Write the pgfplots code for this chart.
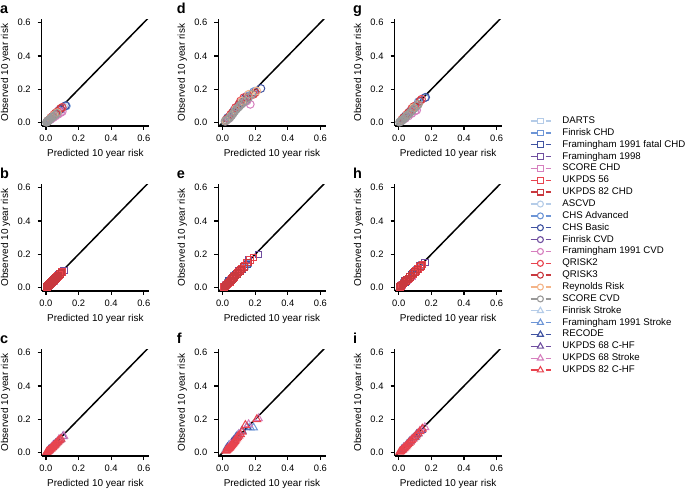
\documentclass[border=0pt]{standalone}
\usepackage{pgfplots}
\pgfplotsset{compat=1.18}
\usepackage{fontspec}
\setmainfont{Liberation Sans}

\definecolor{lblue}{HTML}{B5CCE8}
\definecolor{mblue}{HTML}{6D95D6}
\definecolor{dblue}{HTML}{3F52A1}
\definecolor{purp}{HTML}{6F4E9F}
\definecolor{pinkc}{HTML}{D67FBE}
\definecolor{red1}{HTML}{E8434E}
\definecolor{red2}{HTML}{C9393F}
\definecolor{peach}{HTML}{F4B488}
\definecolor{grey1}{HTML}{999999}

\pgfplotsset{
 panel/.style={
  scale only axis, width=107.3bp, height=106.7bp,
  xmin=-0.026, xmax=0.632, ymin=-0.02, ymax=0.62,
  axis x line=bottom, axis y line=left,
  axis line style={-, line width=1.3bp, black},
  xtick={0,0.2,0.4,0.6}, ytick={0,0.2,0.4,0.6},
  xticklabels={0.0,0.2,0.4,0.6}, yticklabels={0.0,0.2,0.4,0.6},
  tick align=outside, major tick length=4bp,
  every tick/.style={black, line width=1.3bp},
  tick label style={font=\fontsize{9.4}{11}\selectfont},
  yticklabel style={xshift=-3.5bp},
  xticklabel style={yshift=-1bp},
  label style={font=\fontsize{10.7}{12}\selectfont},
  xlabel={Predicted 10 year risk}, ylabel={Observed 10 year risk},
  every axis x label/.style={at={(axis description cs:0.5,-0.262)}, anchor=center},
  every axis y label/.style={at={(axis description cs:-0.336,0.5)}, anchor=center, rotate=90},
 },
 diag/.style={black, line width=1.5bp, no markers},
 sq/.style={only marks, mark=square, mark size=3.3bp, line width=1bp},
 ci/.style={only marks, mark=o, mark size=3.9bp, line width=1bp},
 tr/.style={only marks, mark=triangle, mark size=4.5bp, line width=1bp},
 lsq/.style={line width=1.4bp, mark=square, mark size=2.8bp, mark options={line width=1.1bp}},
 lci/.style={line width=1.4bp, mark=o, mark size=3bp, mark options={line width=1.1bp}},
 ltr/.style={line width=1.4bp, mark=triangle, mark size=3.5bp, mark options={line width=1.1bp}},
}

\newcommand{\panellabel}[3]{\node[anchor=base west, font=\fontsize{14.5}{16}\selectfont\bfseries, inner sep=0pt] at (#1bp,#2bp) {#3};}

\begin{document}
\begin{tikzpicture}
\useasboundingbox (0,0) rectangle (685bp,491bp);

% ---------------- panel a ----------------
\begin{axis}[panel, at={(41.7bp,365bp)}, anchor=south west]
\addplot[diag] coordinates {(-0.02,-0.02) (0.625,0.625)};
\addplot[ci, lblue] coordinates {(0.01,0.008) (0.02,0.016) (0.03,0.025) (0.045,0.038) (0.06,0.05) (0.08,0.07) (0.11,0.095)};
\addplot[ci, mblue] coordinates {(0.02,0.015) (0.04,0.035) (0.07,0.06) (0.1,0.09) (0.125,0.1)};
\addplot[ci, dblue] coordinates {(0.03,0.025) (0.06,0.05) (0.09,0.08) (0.12,0.102)};
\addplot[ci, purp] coordinates {(0.01,0.008) (0.025,0.02) (0.04,0.035) (0.06,0.055) (0.08,0.075)};
\addplot[ci, pinkc] coordinates {(0.015,0.01) (0.03,0.02) (0.045,0.03) (0.06,0.04) (0.075,0.05) (0.09,0.06) (0.1,0.066)};
\addplot[ci, red1] coordinates {(0.01,0.01) (0.03,0.03) (0.05,0.05) (0.07,0.065) (0.1,0.092)};
\addplot[ci, red2] coordinates {(0.012,0.012) (0.035,0.033) (0.06,0.058) (0.09,0.085)};
\addplot[ci, peach] coordinates {(0.01,0.009) (0.03,0.028) (0.05,0.046) (0.07,0.06)};
\addplot[ci, grey1] coordinates {(0.003,0.002) (0.006,0.004) (0.009,0.007) (0.012,0.01) (0.016,0.013) (0.02,0.017) (0.025,0.021) (0.031,0.026) (0.038,0.031) (0.046,0.038) (0.056,0.045) (0.068,0.056)};
\end{axis}

% ---------------- panel b ----------------
\begin{axis}[panel, at={(41.7bp,200bp)}, anchor=south west]
\addplot[diag] coordinates {(-0.02,-0.02) (0.625,0.625)};
\addplot[sq, lblue] coordinates {(0.01,0.008) (0.03,0.025) (0.05,0.045) (0.07,0.065)};
\addplot[sq, mblue] coordinates {(0.02,0.018) (0.05,0.045) (0.08,0.075) (0.1,0.092)};
\addplot[sq, dblue] coordinates {(0.015,0.01) (0.04,0.035) (0.07,0.06)};
\addplot[sq, purp] coordinates {(0.02,0.02) (0.05,0.05) (0.08,0.08) (0.11,0.103)};
\addplot[sq, pinkc] coordinates {(0.01,0.008) (0.03,0.025) (0.05,0.04)};
\addplot[sq, red1] coordinates {(0.005,0.004) (0.01,0.008) (0.015,0.012) (0.02,0.017) (0.025,0.022) (0.03,0.027) (0.035,0.031) (0.04,0.036) (0.045,0.041) (0.05,0.046) (0.056,0.051) (0.062,0.057) (0.068,0.063) (0.075,0.07) (0.082,0.077) (0.09,0.085) (0.1,0.095)};
\addplot[sq, red2] coordinates {(0.006,0.006) (0.012,0.011) (0.018,0.016) (0.024,0.022) (0.03,0.028) (0.036,0.034) (0.042,0.039) (0.048,0.045) (0.055,0.052) (0.062,0.059) (0.07,0.066) (0.078,0.074) (0.086,0.082) (0.095,0.09)};
\end{axis}

% ---------------- panel c ----------------
\begin{axis}[panel, at={(41.7bp,35bp)}, anchor=south west]
\addplot[diag] coordinates {(-0.02,-0.02) (0.625,0.625)};
\addplot[tr, lblue] coordinates {(0.01,0.008) (0.03,0.028) (0.05,0.045)};
\addplot[tr, mblue] coordinates {(0.02,0.02) (0.04,0.037) (0.07,0.065) (0.09,0.08)};
\addplot[tr, dblue] coordinates {(0.015,0.012) (0.04,0.035) (0.06,0.055)};
\addplot[tr, purp] coordinates {(0.02,0.018) (0.05,0.048) (0.08,0.075) (0.105,0.098)};
\addplot[tr, pinkc] coordinates {(0.01,0.008) (0.04,0.04) (0.08,0.08) (0.11,0.1)};
\addplot[tr, red1] coordinates {(0.005,0.003) (0.01,0.006) (0.015,0.01) (0.02,0.014) (0.025,0.019) (0.03,0.023) (0.035,0.028) (0.04,0.032) (0.045,0.037) (0.05,0.042) (0.055,0.047) (0.06,0.052) (0.066,0.058) (0.072,0.064) (0.078,0.07) (0.085,0.076) (0.092,0.083)};
\end{axis}

% ---------------- panel d ----------------
\begin{axis}[panel, at={(218.3bp,365bp)}, anchor=south west]
\addplot[diag] coordinates {(-0.02,-0.02) (0.625,0.625)};
\addplot[ci, lblue] coordinates {(0.02,0.015) (0.05,0.045) (0.08,0.08) (0.12,0.12) (0.16,0.16) (0.2,0.19)};
\addplot[ci, mblue] coordinates {(0.03,0.03) (0.07,0.075) (0.11,0.12) (0.15,0.16) (0.19,0.185)};
\addplot[ci, dblue] coordinates {(0.04,0.035) (0.09,0.09) (0.14,0.15) (0.235,0.205)};
\addplot[ci, purp] coordinates {(0.03,0.025) (0.07,0.07) (0.11,0.11) (0.15,0.14)};
\addplot[ci, pinkc] coordinates {(0.02,0.01) (0.04,0.025) (0.06,0.05) (0.08,0.09) (0.1,0.1) (0.13,0.12) (0.15,0.13) (0.17,0.11)};
\addplot[ci, red1] coordinates {(0.02,0.015) (0.05,0.05) (0.08,0.09) (0.11,0.13) (0.13,0.15) (0.19,0.17)};
\addplot[ci, red2] coordinates {(0.03,0.025) (0.06,0.06) (0.1,0.11) (0.15,0.15) (0.2,0.18)};
\addplot[ci, peach] coordinates {(0.02,0.012) (0.05,0.04) (0.08,0.08) (0.12,0.13) (0.16,0.17) (0.21,0.19)};
\addplot[ci, grey1] coordinates {(0.015,0.008) (0.025,0.015) (0.035,0.022) (0.045,0.03) (0.055,0.042) (0.065,0.055) (0.075,0.068) (0.085,0.08) (0.095,0.09) (0.105,0.1) (0.115,0.11) (0.125,0.12) (0.14,0.13) (0.16,0.15) (0.18,0.17)};
\end{axis}

% ---------------- panel e ----------------
\begin{axis}[panel, at={(218.3bp,200bp)}, anchor=south west]
\addplot[diag] coordinates {(-0.02,-0.02) (0.625,0.625)};
\addplot[sq, lblue] coordinates {(0.02,0.02) (0.06,0.06) (0.1,0.1) (0.14,0.13)};
\addplot[sq, mblue] coordinates {(0.03,0.03) (0.07,0.07) (0.11,0.11) (0.13,0.12) (0.155,0.145)};
\addplot[sq, dblue] coordinates {(0.04,0.04) (0.08,0.08) (0.12,0.11) (0.15,0.14)};
\addplot[sq, purp] coordinates {(0.05,0.05) (0.1,0.1) (0.16,0.17) (0.22,0.2)};
\addplot[sq, pinkc] coordinates {(0.02,0.015) (0.05,0.045) (0.09,0.085)};
\addplot[sq, red1] coordinates {(0.01,0.005) (0.015,0.008) (0.02,0.012) (0.025,0.016) (0.03,0.02) (0.035,0.025) (0.04,0.03) (0.045,0.035) (0.05,0.04) (0.055,0.046) (0.06,0.052) (0.066,0.058) (0.072,0.065) (0.078,0.072) (0.085,0.08) (0.092,0.088) (0.1,0.096) (0.11,0.105) (0.12,0.115) (0.135,0.13) (0.15,0.15) (0.17,0.165) (0.19,0.18)};
\addplot[sq, red2] coordinates {(0.012,0.008) (0.018,0.012) (0.024,0.018) (0.03,0.024) (0.037,0.03) (0.044,0.037) (0.051,0.044) (0.058,0.051) (0.065,0.058) (0.072,0.066) (0.08,0.074) (0.088,0.082) (0.097,0.09) (0.106,0.1) (0.116,0.11) (0.13,0.125) (0.16,0.15)};
\end{axis}

% ---------------- panel f ----------------
\begin{axis}[panel, at={(218.3bp,35bp)}, anchor=south west]
\addplot[diag] coordinates {(-0.02,-0.02) (0.625,0.625)};
\addplot[tr, lblue] coordinates {(0.02,0.02) (0.05,0.05) (0.09,0.1)};
\addplot[tr, mblue] coordinates {(0.04,0.045) (0.08,0.09) (0.1,0.11) (0.12,0.13) (0.17,0.15) (0.19,0.15)};
\addplot[tr, dblue] coordinates {(0.03,0.03) (0.06,0.065) (0.09,0.1) (0.15,0.155)};
\addplot[tr, purp] coordinates {(0.03,0.03) (0.07,0.075) (0.12,0.13)};
\addplot[tr, pinkc] coordinates {(0.05,0.05) (0.1,0.11) (0.16,0.17) (0.22,0.205)};
\addplot[tr, red1] coordinates {(0.02,0.01) (0.025,0.014) (0.03,0.018) (0.035,0.022) (0.04,0.027) (0.045,0.032) (0.05,0.037) (0.055,0.043) (0.06,0.049) (0.065,0.055) (0.07,0.062) (0.075,0.069) (0.08,0.076) (0.086,0.084) (0.092,0.092) (0.1,0.1) (0.11,0.11) (0.12,0.125) (0.14,0.165) (0.21,0.2)};
\end{axis}

% ---------------- panel g ----------------
\begin{axis}[panel, at={(394.5bp,365bp)}, anchor=south west]
\addplot[diag] coordinates {(-0.02,-0.02) (0.625,0.625)};
\addplot[ci, lblue] coordinates {(0.02,0.015) (0.05,0.045) (0.09,0.085) (0.14,0.14)};
\addplot[ci, mblue] coordinates {(0.03,0.03) (0.07,0.07) (0.12,0.125) (0.16,0.15)};
\addplot[ci, dblue] coordinates {(0.04,0.04) (0.09,0.09) (0.165,0.152)};
\addplot[ci, purp] coordinates {(0.03,0.025) (0.07,0.065) (0.11,0.1)};
\addplot[ci, pinkc] coordinates {(0.02,0.012) (0.04,0.025) (0.06,0.04) (0.08,0.055) (0.1,0.07) (0.11,0.075)};
\addplot[ci, red1] coordinates {(0.02,0.02) (0.05,0.05) (0.08,0.085) (0.1,0.1) (0.14,0.14)};
\addplot[ci, red2] coordinates {(0.03,0.03) (0.06,0.06) (0.09,0.095) (0.13,0.13)};
\addplot[ci, peach] coordinates {(0.02,0.015) (0.05,0.045) (0.09,0.09) (0.12,0.11)};
\addplot[ci, grey1] coordinates {(0.005,0.003) (0.01,0.006) (0.015,0.01) (0.02,0.014) (0.027,0.019) (0.034,0.025) (0.042,0.033) (0.05,0.041) (0.06,0.05) (0.07,0.06) (0.082,0.072) (0.095,0.085) (0.11,0.1) (0.12,0.11)};
\end{axis}

% ---------------- panel h ----------------
\begin{axis}[panel, at={(394.5bp,200bp)}, anchor=south west]
\addplot[diag] coordinates {(-0.02,-0.02) (0.625,0.625)};
\addplot[sq, lblue] coordinates {(0.02,0.018) (0.05,0.048) (0.09,0.088) (0.12,0.115)};
\addplot[sq, mblue] coordinates {(0.03,0.03) (0.07,0.068) (0.11,0.105) (0.14,0.135)};
\addplot[sq, dblue] coordinates {(0.04,0.035) (0.08,0.075) (0.12,0.11)};
\addplot[sq, purp] coordinates {(0.04,0.04) (0.09,0.09) (0.13,0.13) (0.16,0.15)};
\addplot[sq, pinkc] coordinates {(0.02,0.015) (0.05,0.042) (0.08,0.07)};
\addplot[sq, red1] coordinates {(0.006,0.004) (0.012,0.008) (0.018,0.013) (0.024,0.018) (0.03,0.024) (0.036,0.03) (0.042,0.036) (0.048,0.042) (0.055,0.049) (0.062,0.056) (0.07,0.064) (0.078,0.072) (0.087,0.081) (0.096,0.09) (0.106,0.1) (0.118,0.112) (0.13,0.125) (0.145,0.14)};
\addplot[sq, red2] coordinates {(0.008,0.007) (0.015,0.013) (0.022,0.019) (0.029,0.026) (0.036,0.033) (0.044,0.04) (0.052,0.048) (0.06,0.056) (0.069,0.065) (0.078,0.074) (0.088,0.084) (0.1,0.095) (0.115,0.11) (0.135,0.13)};
\end{axis}

% ---------------- panel i ----------------
\begin{axis}[panel, at={(394.5bp,35bp)}, anchor=south west]
\addplot[diag] coordinates {(-0.02,-0.02) (0.625,0.625)};
\addplot[tr, lblue] coordinates {(0.01,0.009) (0.04,0.038) (0.07,0.068)};
\addplot[tr, mblue] coordinates {(0.02,0.02) (0.05,0.05) (0.09,0.088) (0.12,0.115)};
\addplot[tr, dblue] coordinates {(0.02,0.018) (0.06,0.058) (0.1,0.095)};
\addplot[tr, purp] coordinates {(0.03,0.03) (0.07,0.07) (0.11,0.11) (0.14,0.135)};
\addplot[tr, pinkc] coordinates {(0.03,0.028) (0.08,0.08) (0.13,0.13) (0.16,0.152)};
\addplot[tr, red1] coordinates {(0.006,0.004) (0.012,0.008) (0.018,0.013) (0.024,0.018) (0.03,0.024) (0.036,0.03) (0.042,0.036) (0.048,0.042) (0.055,0.049) (0.062,0.057) (0.07,0.065) (0.078,0.073) (0.087,0.082) (0.096,0.092) (0.106,0.102) (0.118,0.114) (0.13,0.127) (0.145,0.143)};
\end{axis}

% ---------------- panel labels ----------------
\panellabel{0}{477.5}{a}
\panellabel{0}{312.5}{b}
\panellabel{0}{147.5}{c}
\panellabel{176.6}{477.5}{d}
\panellabel{176.6}{312.5}{e}
\panellabel{176.6}{147.5}{f}
\panellabel{352.8}{477.5}{g}
\panellabel{352.8}{312.5}{h}
\panellabel{352.8}{147.5}{i}

% ---------------- legend ----------------
\begin{axis}[at={(0bp,0bp)}, anchor=south west, scale only axis, width=685bp, height=491bp,
  xmin=0, xmax=1, ymin=0, ymax=1, hide axis,
  legend image code/.code={
    \draw[mark=none] (0bp,0bp) -- (7.5bp,0bp);
    \draw[mark=none] (15bp,0bp) -- (20.7bp,0bp);
    \draw[only marks] plot coordinates {(9.7bp,0bp)};
  },
  legend style={at={(0.7737,0.7627)}, anchor=north west, draw=none, fill=none,
    inner sep=0pt, outer sep=0pt, row sep=2.86bp,
    font=\fontsize{9.7}{11}\selectfont,
    nodes={inner sep=0pt, text height=7bp, text depth=2bp, anchor=west},
    cells={anchor=west},
    /tikz/every odd column/.append style={column sep=10.3bp}},
]
\addlegendimage{lsq, lblue}\addlegendentry{DARTS}
\addlegendimage{lsq, mblue}\addlegendentry{Finrisk CHD}
\addlegendimage{lsq, dblue}\addlegendentry{Framingham 1991 fatal CHD}
\addlegendimage{lsq, purp}\addlegendentry{Framingham 1998}
\addlegendimage{lsq, pinkc}\addlegendentry{SCORE CHD}
\addlegendimage{lsq, red1}\addlegendentry{UKPDS 56}
\addlegendimage{lsq, red2}\addlegendentry{UKPDS 82 CHD}
\addlegendimage{lci, lblue}\addlegendentry{ASCVD}
\addlegendimage{lci, mblue}\addlegendentry{CHS Advanced}
\addlegendimage{lci, dblue}\addlegendentry{CHS Basic}
\addlegendimage{lci, purp}\addlegendentry{Finrisk CVD}
\addlegendimage{lci, pinkc}\addlegendentry{Framingham 1991 CVD}
\addlegendimage{lci, red1}\addlegendentry{QRISK2}
\addlegendimage{lci, red2}\addlegendentry{QRISK3}
\addlegendimage{lci, peach}\addlegendentry{Reynolds Risk}
\addlegendimage{lci, grey1}\addlegendentry{SCORE CVD}
\addlegendimage{ltr, lblue}\addlegendentry{Finrisk Stroke}
\addlegendimage{ltr, mblue}\addlegendentry{Framingham 1991 Stroke}
\addlegendimage{ltr, dblue}\addlegendentry{RECODE}
\addlegendimage{ltr, purp}\addlegendentry{UKPDS 68 C-HF}
\addlegendimage{ltr, pinkc}\addlegendentry{UKPDS 68 Stroke}
\addlegendimage{ltr, red1}\addlegendentry{UKPDS 82 C-HF}
\end{axis}
\end{tikzpicture}
\end{document}
